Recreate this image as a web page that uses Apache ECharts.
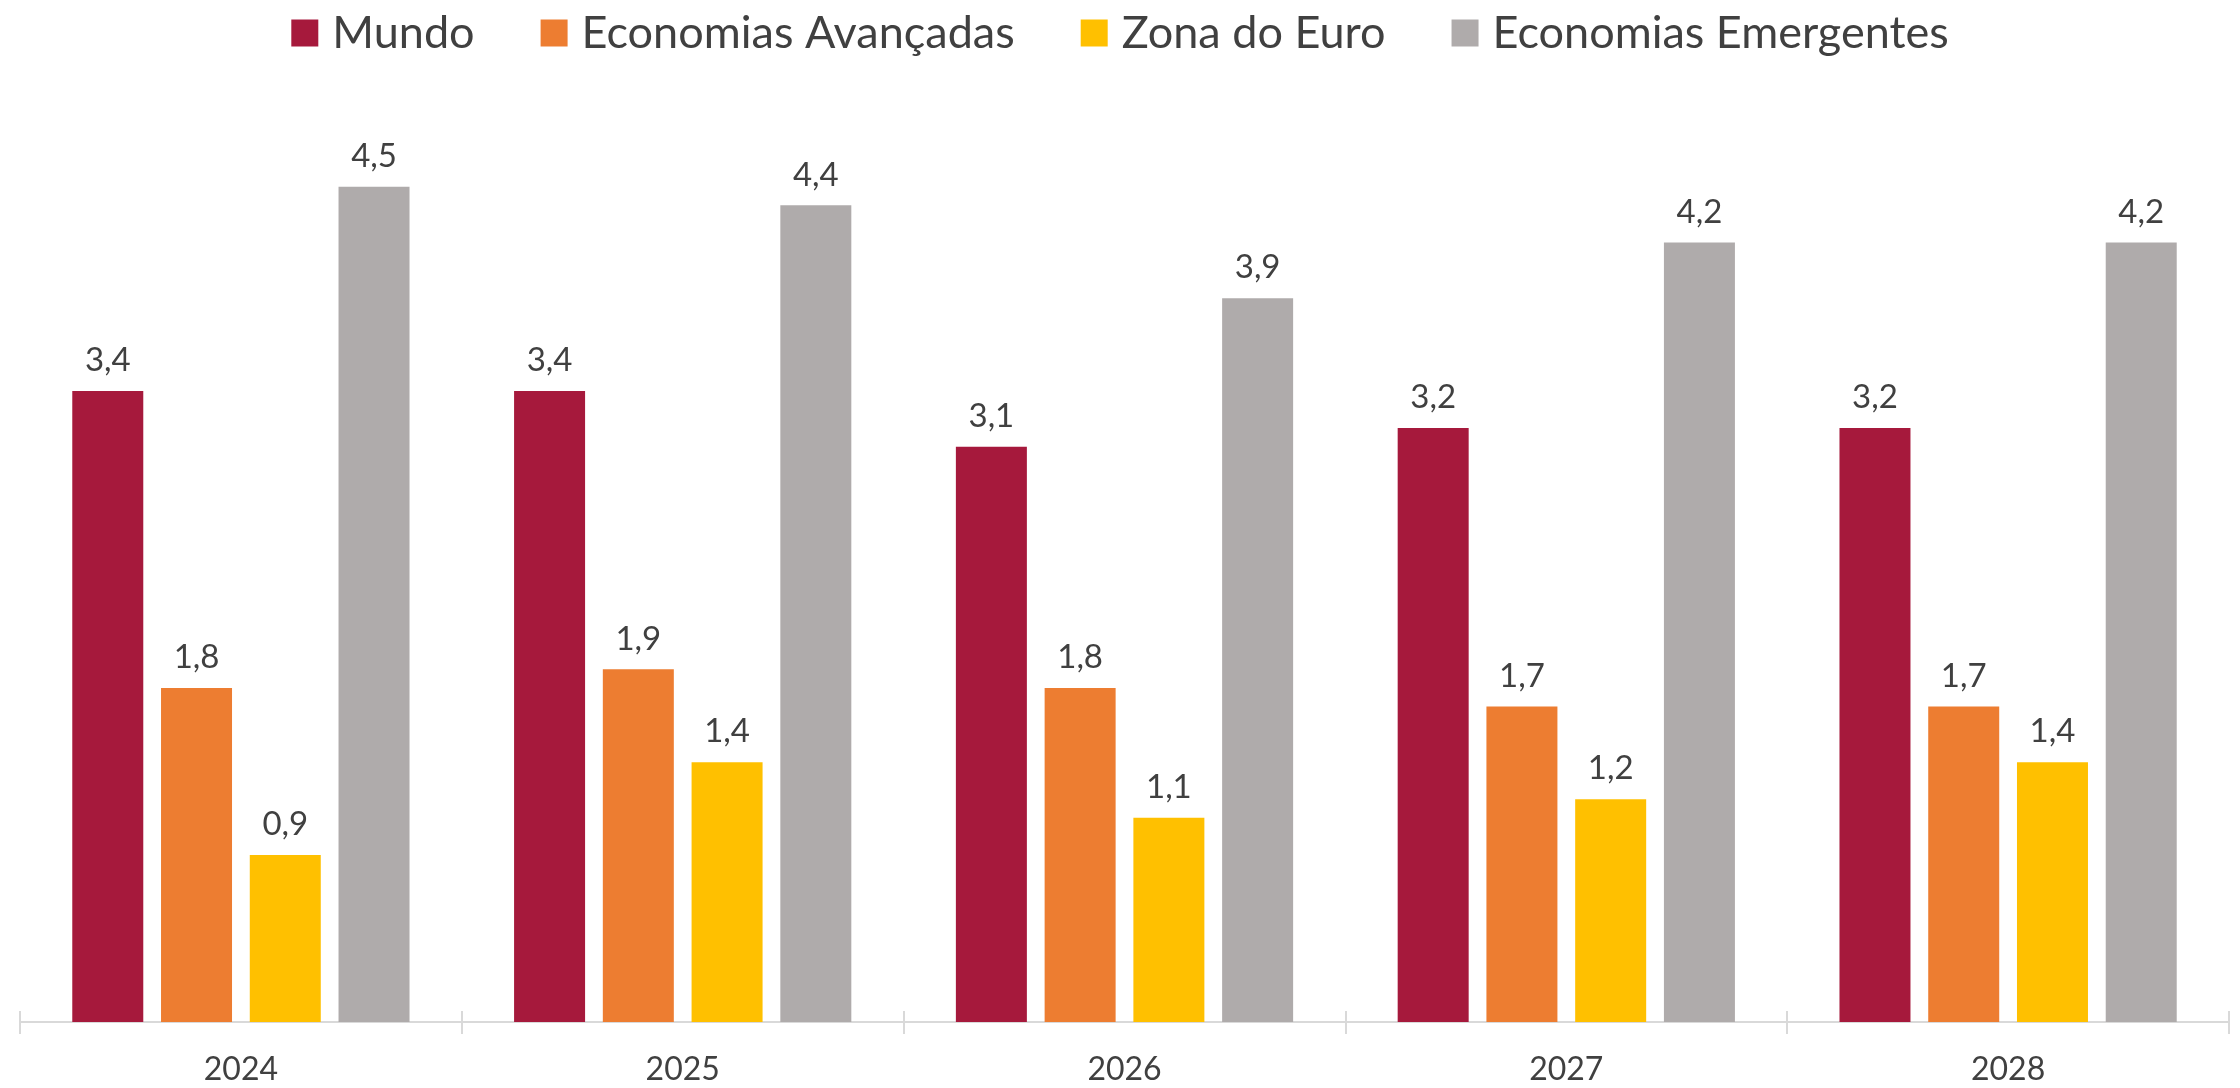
<!DOCTYPE html>
<html>
<head>
<meta charset="utf-8">
<title>Crescimento do PIB</title>
<script src="https://cdn.jsdelivr.net/npm/echarts@6/dist/echarts.min.js"></script>
<style>
  html, body { margin: 0; padding: 0; background: #fff; }
  #container { width: 2240px; height: 1088px; }
</style>
</head>
<body>
<div id="container"></div>
<script>
var anos = ['2024', '2025', '2026', '2027', '2028'];
var mundo = [3.4, 3.4, 3.1, 3.2, 3.2];
var avancadas = [1.8, 1.9, 1.8, 1.7, 1.7];
var zonaEuro = [0.9, 1.4, 1.1, 1.2, 1.4];
var emergentes = [4.5, 4.4, 3.9, 4.2, 4.2];

window.onload = function(){
    var dom = document.getElementById("container");
    var myChart = echarts.init(dom);
    var fonte = 'Lato';
    var cinzaTexto = '#404040';

    function rotulo(p) {
        return p.value.toFixed(1).replace('.', ',');
    }

    function serie(nome, dados) {
        return {
            name: nome,
            type: 'bar',
            data: dados,
            barWidth: 71,
            barGap: '25%',
            label: {
                show: true,
                position: 'top',
                distance: 14,
                formatter: rotulo,
                color: cinzaTexto,
                fontFamily: fonte,
                fontSize: 33
            }
        };
    }

    var option = {
        animation: false,
        color: ['#A6193C', '#ED7D31', '#FFC000', '#AFABAB'],
        legend: {
            data: ['Mundo', 'Economias Avançadas', 'Zona do Euro', 'Economias Emergentes'],
            top: 3,
            left: 'center',
            icon: 'rect',
            itemWidth: 27,
            itemHeight: 27,
            itemGap: 66,
            textStyle: {
                color: cinzaTexto,
                fontFamily: fonte,
                fontSize: 45,
                lineHeight: 50,
                padding: [0, 0, 0, 9]
            }
        },
        grid: {
            left: 20,
            right: 11,
            top: 94,
            bottom: 66,
            containLabel: false
        },
        xAxis: [{
            type: 'category',
            data: anos,
            axisLine: { lineStyle: { color: '#d9d9d9', width: 2 } },
            axisTick: { show: true, length: 12, lineStyle: { color: '#d9d9d9', width: 2 } },
            axisLabel: {
                color: cinzaTexto,
                fontFamily: fonte,
                fontSize: 32,
                margin: 32
            }
        }, {
            // ticks that go up from the axis line
            type: 'category',
            data: anos,
            position: 'bottom',
            axisLine: { show: false },
            axisTick: { show: true, inside: true, length: 11, lineStyle: { color: '#d9d9d9', width: 2 } },
            axisLabel: { show: false }
        }],
        yAxis: {
            type: 'value',
            min: 0,
            max: 5,
            show: false,
            splitLine: { show: false }
        },
        series: [
            serie('Mundo', mundo),
            serie('Economias Avançadas', avancadas),
            serie('Zona do Euro', zonaEuro),
            serie('Economias Emergentes', emergentes)
        ]
    };
    myChart.setOption(option, true);
};
</script>
</body>
</html>
